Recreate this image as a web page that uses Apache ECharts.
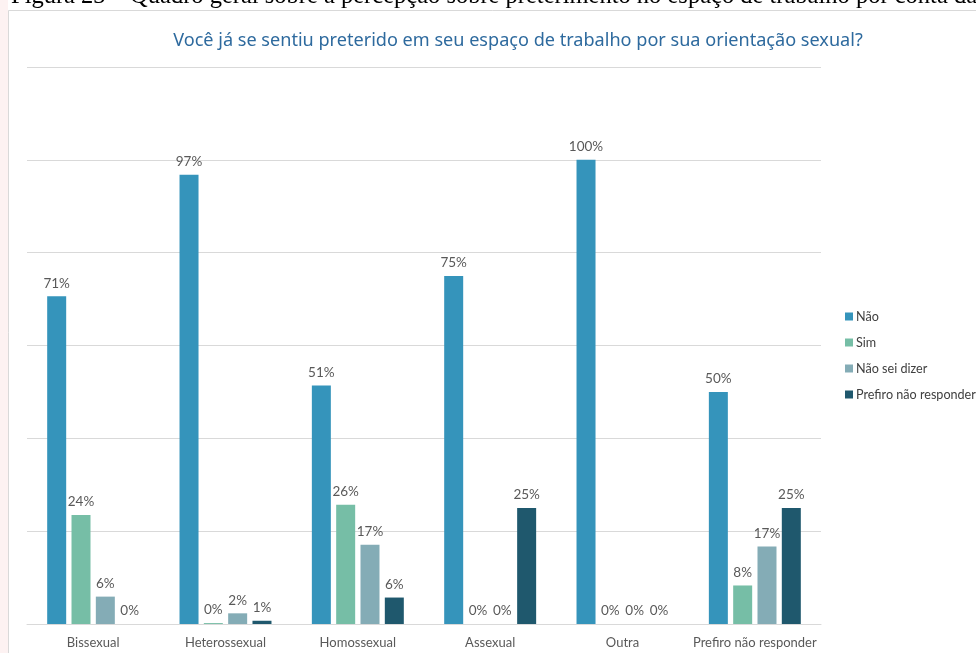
<!DOCTYPE html>
<html>
<head>
<meta charset="utf-8">
<script src="https://cdn.jsdelivr.net/npm/echarts@6/dist/echarts.min.js"></script>
<style>
html,body{margin:0;padding:0;background:#fff;}
#chart{width:976px;height:653px;}
</style>
</head>
<body>
<div id="chart"></div>
<script>
const categories = ['Bissexual', 'Heterossexual', 'Homossexual', 'Assexual', 'Outra', 'Prefiro não responder'];
const seriesNames = ['Não', 'Sim', 'Não sei dizer', 'Prefiro não responder'];
const naoValues = [70.6, 96.8, 51.4, 75, 100, 50];
const simValues = [23.5, 0.2, 25.7, 0, 0, 8.3];
const naoSeiValues = [5.9, 2.3, 17.1, 0, 0, 16.7];
const prefiroValues = [0, 0.7, 5.7, 25, 0, 25];
const colors = ['#3594bb', '#76bea6', '#84acb6', '#1f586d'];
const titleText = 'Você já se sentiu preterido em seu espaço de trabalho por sua orientação sexual?';
const captionText = 'Figura 23 – Quadro geral sobre a percepção sobre preterimento no espaço de trabalho por conta da';

const chart = echarts.init(document.getElementById('chart'));
const allValues = [naoValues, simValues, naoSeiValues, prefiroValues];
const labelFont = 'Lato, "Noto Sans", sans-serif';
chart.setOption({
  animation: false,
  backgroundColor: '#fff',
  title: {
    text: titleText,
    left: 513, top: 27, textAlign: 'center',
    textStyle: { color: '#2e6a9e', fontSize: 18.1, fontWeight: 'normal', fontFamily: '"Noto Sans", sans-serif' }
  },
  graphic: [
    { type: 'rect', left: 0, top: 0, shape: { width: 8, height: 653 }, style: { fill: '#fdf2f2' }, silent: true, z: -10 },
    { type: 'rect', shape: { x: 8.5, y: 10.5, width: 1000, height: 700 }, style: { fill: '#fff', stroke: '#d9d9d9', lineWidth: 1 }, silent: true, z: -9 },
    { type: 'text', x: 11, y: -16, style: { text: captionText, font: '24.5px "Liberation Serif", "Times New Roman", serif', fill: '#000' }, silent: true, z: 10 }
  ],
  legend: {
    orient: 'vertical',
    left: 840, top: 305,
    itemWidth: 8, itemHeight: 8, itemGap: 13,
    icon: 'rect',
    textStyle: { color: '#404040', fontSize: 12.6, fontFamily: labelFont, padding: [0,0,0,-2] },
    data: seriesNames
  },
  grid: { left: 27, right: 155, top: 67, bottom: 29, containLabel: false },
  xAxis: {
    type: 'category',
    data: categories,
    axisLine: { lineStyle: { color: '#d9d9d9', width: 1 } },
    axisTick: { show: false },
    axisLabel: { color: '#595959', fontSize: 13, fontFamily: labelFont, margin: 12, interval: 0 }
  },
  yAxis: {
    type: 'value', min: 0, max: 120, interval: 20,
    axisLabel: { show: false },
    axisLine: { show: false }, axisTick: { show: false },
    splitLine: { lineStyle: { color: '#d9d9d9', width: 1 } }
  },
  series: seriesNames.map((name, i) => ({
    name: name,
    type: 'bar',
    data: allValues[i],
    barWidth: 19,
    barGap: '28%',
    itemStyle: { color: colors[i] },
    label: {
      show: true, position: 'top', distance: 6,
      color: '#595959', fontSize: 13.5, fontFamily: labelFont,
      formatter: p => Math.round(p.value) + '%'
    }
  }))
});
</script>
</body>
</html>
